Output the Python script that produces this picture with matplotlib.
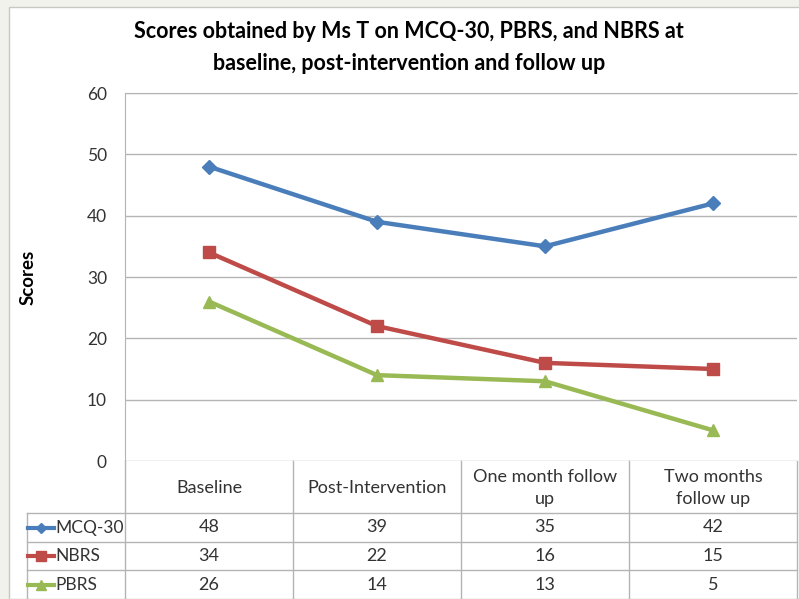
# Scores for Ms T: MCQ-30, NBRS, PBRS, with the data table under the chart
import matplotlib
matplotlib.use("Agg")
from matplotlib import pyplot as plt
from matplotlib.lines import Line2D
from matplotlib.patches import Rectangle

# data
categories = ["Baseline", "Post-Intervention", "One month follow\nup", "Two months\nfollow up"]
series_names = ["MCQ-30", "NBRS", "PBRS"]
mcq30 = [48, 39, 35, 42]
nbrs = [34, 22, 16, 15]
pbrs = [26, 14, 13, 5]
yticks = [0, 10, 20, 30, 40, 50, 60]

colors = ["#4a7ebb", "#be4b48", "#98b954"]
markers = ["D", "s", "^"]
msizes = [7.5, 9, 9]

plt.rcParams['font.family'] = ['Lato', 'DejaVu Sans']

W, H = 799, 599
fig = plt.figure(figsize=(W / 100, H / 100), dpi=100)
fig.patch.set_facecolor("#f2f2ec")


def fx(px):
    return px / W


def fy(py):
    return 1 - py / H


# white chart panel
fig.add_artist(Rectangle((fx(9), 0), 1, fy(7), transform=fig.transFigure,
                         facecolor="white", edgecolor="#c8c8c0", lw=1, zorder=-5))

# plot area
left, right, top, bottom = 125, 797, 93, 461
ax = fig.add_axes([fx(left), fy(bottom), fx(right) - fx(left), fy(top) - fy(bottom)])
ax.patch.set_alpha(0)
x = [1, 2, 3, 4]
for vals, c, m, ms in zip([mcq30, nbrs, pbrs], colors, markers, msizes):
    ax.plot(x, vals, color=c, lw=3.2, marker=m, markersize=ms,
            markeredgecolor=c, markerfacecolor=c, zorder=3)

ax.set_xlim(0.5, 4.5)
ax.set_ylim(0, 60)
ax.set_yticks(yticks)
ax.set_xticks([])
ax.grid(axis="y", color="#b4b4b4", lw=1)
ax.set_axisbelow(True)
for s in ["right", "bottom"]:
    ax.spines[s].set_visible(False)
ax.spines["top"].set_color("#b4b4b4")
ax.spines["left"].set_color("#b4b4b4")
ax.tick_params(axis="y", length=0, pad=13, labelsize=12.5, labelcolor="#333333")
ax.set_ylabel("Scores", fontsize=13.5, fontweight="bold")
ax.yaxis.set_label_coords(-0.131, 0.5)

fig.text(fx(409), fy(32), "Scores obtained by Ms T on MCQ-30, PBRS, and NBRS at",
         ha="center", va="center", fontsize=15.5, fontweight="bold")
fig.text(fx(409), fy(64), "baseline, post-intervention and follow up",
         ha="center", va="center", fontsize=15.5, fontweight="bold")

# data table
grid_c = "#b4b4b4"
col_w = (right - left) / len(categories)
row_tops = [461, 513, 542, 570, 599]
col_edges = [left + i * col_w for i in range(len(categories) + 1)]


def hline(py, x0, x1):
    fig.add_artist(Line2D([fx(x0), fx(x1)], [fy(py), fy(py)], color=grid_c, lw=1))


def vline(px, y0, y1):
    fig.add_artist(Line2D([fx(px), fx(px)], [fy(y0), fy(y1)], color=grid_c, lw=1))


hline(513, 27, right)
hline(542, 27, right)
hline(570, 27, right)
vline(27, 513, 600)
vline(left, 461, 600)
for ce in col_edges[1:]:
    vline(ce, 461, 600)

for i, cat in enumerate(categories):
    fig.text(fx(col_edges[i] + col_w / 2), fy(488), cat, ha="center", va="center",
             fontsize=13, color="#333333", linespacing=1.5)

for r, (name, vals, c, m, ms) in enumerate(zip(series_names, [mcq30, nbrs, pbrs],
                                               colors, markers, msizes)):
    cy = (row_tops[r + 1] + row_tops[r + 2]) / 2
    fig.add_artist(Line2D([fx(28), fx(54)], [fy(cy), fy(cy)], color=c, lw=3))
    fig.add_artist(Line2D([fx(41)], [fy(cy)], color=c, marker=m, markersize=ms - 2.5))
    fig.text(fx(55), fy(cy), name, ha="left", va="center", fontsize=12.5, color="#333333")
    for i, v in enumerate(vals):
        fig.text(fx(col_edges[i] + col_w / 2), fy(cy), str(v), ha="center", va="center",
                 fontsize=13, color="#333333")

fig.savefig("out.png", dpi=100)
